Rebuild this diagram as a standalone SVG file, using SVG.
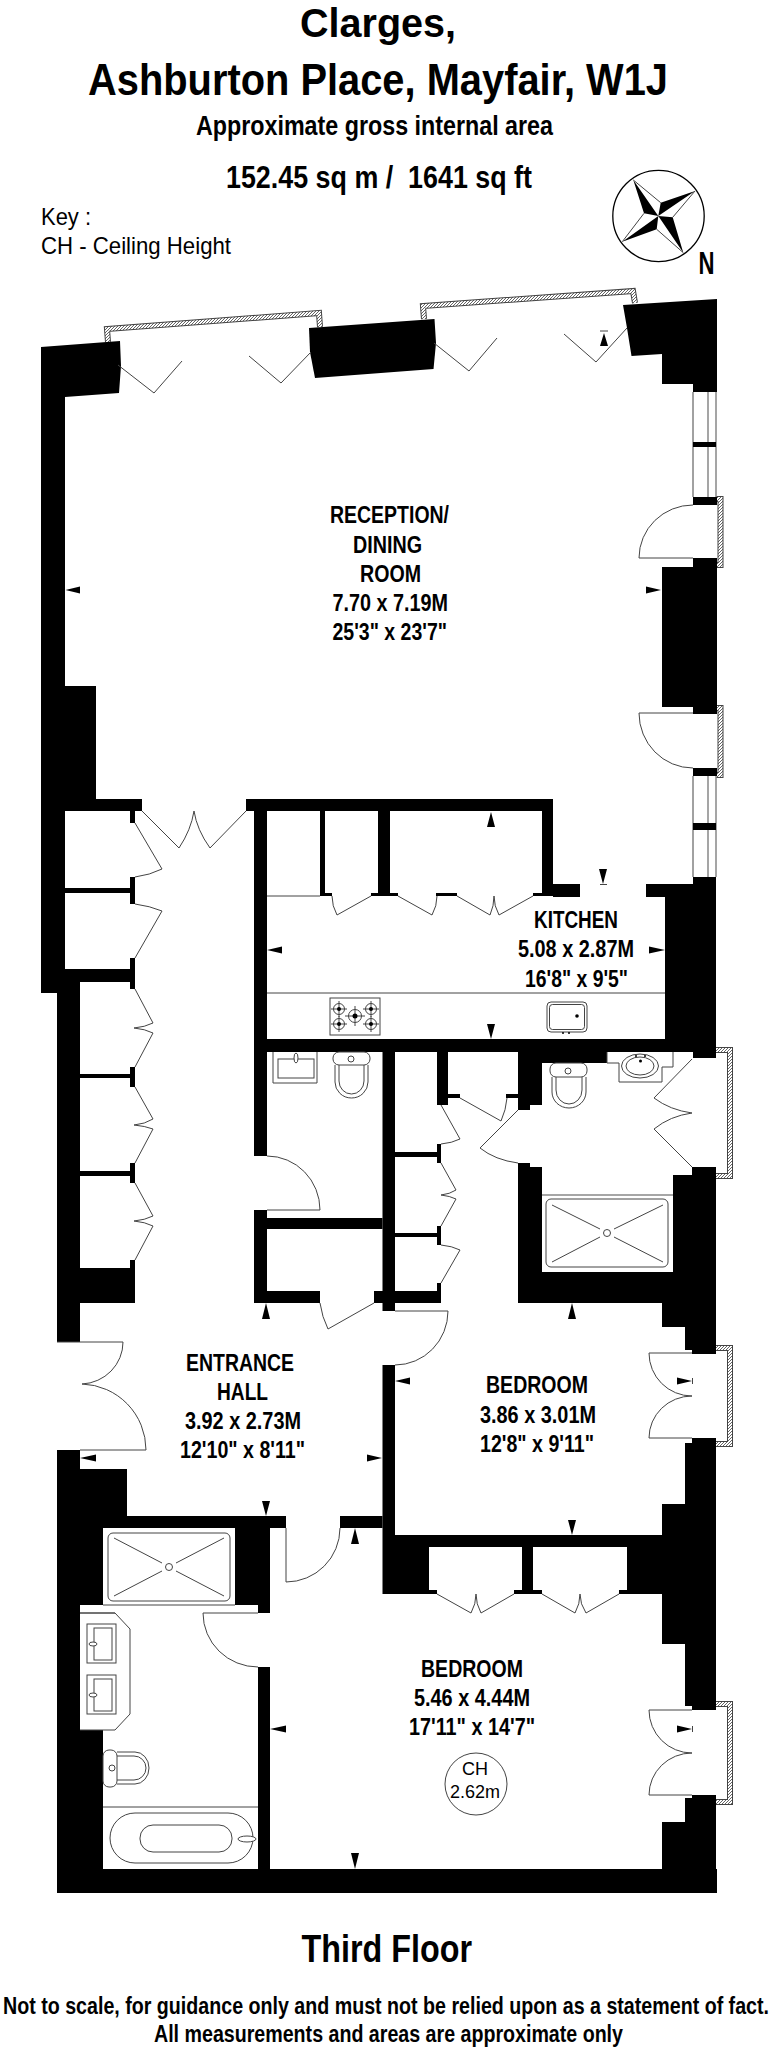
<svg xmlns="http://www.w3.org/2000/svg" width="772" height="2048" viewBox="0 0 772 2048">
<style>
text{font-family:"Liberation Sans",Arial,sans-serif;fill:#000}
.b{font-weight:700}
.r{font-size:23px;font-weight:700}
.l{fill:none;stroke:#444;stroke-width:1}
.g{fill:none;stroke:#888;stroke-width:1.5}
.w{fill:#000}
.fx{fill:#fff;stroke:#444;stroke-width:1}
.d{fill:#000;stroke:none}
</style>
<defs>
<pattern id="hatch" width="3" height="3" patternUnits="userSpaceOnUse"><rect width="3" height="3" fill="#fff"/><path d="M0 3L3 0" stroke="#666" stroke-width="1"/></pattern>
<g id="frames">
<path d="M108 342L107 329L319 313L320 327"/>
<path d="M424 319L423 306L633 291L635 303"/>
<path d="M716 499H720.5V565H716"/>
<path d="M716 708H720.5V775H716"/>
<path d="M716 1050H730V1176H716"/>
<path d="M716 1348H730V1444H716"/>
<path d="M716 1704H730V1802H716"/>
</g>
</defs>
<rect width="772" height="2048" fill="#fff"/>

<g id="titles">
<text class="b" x="300" y="37" font-size="41" textLength="156" lengthAdjust="spacingAndGlyphs">Clarges,</text>
<text class="b" x="88" y="95" font-size="45" textLength="580" lengthAdjust="spacingAndGlyphs">Ashburton Place, Mayfair, W1J</text>
<text class="b" x="196" y="135" font-size="27" textLength="357" lengthAdjust="spacingAndGlyphs">Approximate gross internal area</text>
<text class="b" x="226" y="188" font-size="32" textLength="306" lengthAdjust="spacingAndGlyphs" xml:space="preserve">152.45 sq m /  1641 sq ft</text>
<text x="41" y="225" font-size="24" textLength="50" lengthAdjust="spacingAndGlyphs">Key :</text>
<text x="41" y="254" font-size="24" textLength="190" lengthAdjust="spacingAndGlyphs">CH - Ceiling Height</text>
</g>

<g id="compass">
<circle cx="658.5" cy="216" r="45.7" fill="none" stroke="#000" stroke-width="1.3"/>
<path class="l" d="M633.3 180L660.7 202.7M695 191L672.7 217.3M683.3 252.7L656.7 229.3M622.3 241.7L644 213.3"/>
<path d="M633.3 180L644 213.3L658.3 216ZM695 191L660.7 202.7L658.3 216ZM683.3 252.7L672.7 217.3L658.3 216ZM622.3 241.7L656.7 229.3L658.3 216Z"/>
<text class="b" x="698.5" y="274" font-size="31" textLength="16" lengthAdjust="spacingAndGlyphs">N</text>
</g>

<g id="windows">
<use href="#frames" fill="none" stroke="#444" stroke-width="6"/>
<use href="#frames" fill="none" stroke="url(#hatch)" stroke-width="4"/>
<path class="l" d="M693 392V497M693 776V877"/>
<path class="g" d="M708 392V497M716 392V497M708 776V877M716 776V877"/>
</g>

<g id="walls" class="w">
<polygon points="41,347 120,341 121,366 119,393 65,397 65,686 96,686 96,799 142,799 142,811 135,811 135,823 130,823 130,811 65,811 65,993 41,993"/>
<polygon points="309,328 434.5,319 436,343 433.5,369 315,378 310,352"/>
<polygon points="623,305 717,299 717,392 693,392 693,384 662,384 662,354 631.5,356 627,328"/>
<rect x="65" y="888" width="65" height="5"/><rect x="130" y="877" width="5" height="27"/>
<rect x="65" y="969" width="70" height="13"/><rect x="130" y="958" width="5" height="31"/>
<rect x="57" y="982" width="23" height="360"/>
<rect x="80" y="1074" width="50" height="4"/><rect x="130" y="1067" width="5" height="20"/>
<rect x="80" y="1171" width="50" height="5"/><rect x="130" y="1163" width="5" height="20"/>
<rect x="130" y="1260" width="5" height="8"/><rect x="80" y="1268" width="55" height="35"/>
<rect x="57" y="1450" width="23" height="443"/><rect x="80" y="1469" width="47" height="59"/>
<rect x="127" y="1516" width="159" height="12"/><rect x="80" y="1528" width="23" height="77"/>
<rect x="80" y="1730" width="23" height="139"/><rect x="235" y="1528" width="35" height="77"/>
<rect x="258" y="1605" width="12" height="8"/><rect x="258" y="1667" width="12" height="202"/>
<rect x="57" y="1869" width="660" height="24"/>
<rect x="254" y="799" width="13" height="357"/><rect x="246" y="799" width="307" height="12"/>
<rect x="320" y="811" width="5" height="82"/><rect x="320" y="893" width="12" height="3"/>
<rect x="378" y="811" width="12" height="82"/><rect x="371" y="893" width="27" height="3"/>
<rect x="436" y="893" width="21" height="3"/><rect x="533" y="893" width="9" height="3"/>
<rect x="542" y="799" width="11" height="97"/><rect x="553" y="884" width="27" height="13"/>
<rect x="646" y="884" width="47" height="13"/><rect x="665" y="897" width="28" height="155"/>
<rect x="693" y="877" width="23" height="181"/><rect x="254" y="1039" width="439" height="13"/>
<polygon points="518,1052 607,1052 607,1063 542,1063 542,1105 530,1105 530,1110 518,1110"/>
<rect x="382.5" y="1052" width="12.5" height="259"/>
<rect x="437" y="1052" width="11" height="53"/><rect x="448" y="1094" width="12" height="4"/><rect x="506" y="1094" width="12" height="4"/>
<rect x="395" y="1152" width="42" height="5"/><rect x="437" y="1144" width="4" height="19"/>
<rect x="395" y="1233" width="42" height="4"/><rect x="437" y="1226" width="4" height="19"/>
<rect x="374" y="1291" width="67" height="12"/><rect x="437" y="1283" width="4" height="20"/>
<rect x="254" y="1210" width="13" height="93"/><rect x="267" y="1218" width="115.5" height="11"/><rect x="267" y="1291" width="53" height="12"/>
<polygon points="518,1163 530,1163 530,1167 542,1167 542,1272 673,1272 673,1175 692,1175 692,1167 716,1167 716,1354 692,1354 692,1350 685,1350 685,1327 662,1327 662,1303 518,1303"/>
<rect x="382.5" y="1365" width="12.5" height="170"/><rect x="382.5" y="1535" width="279.5" height="12"/>
<rect x="382.5" y="1547" width="46.5" height="47"/><rect x="429" y="1590" width="8" height="4"/>
<rect x="514" y="1590" width="28" height="4"/><rect x="522" y="1547" width="11" height="43"/>
<rect x="619" y="1590" width="8" height="4"/><rect x="627" y="1547" width="35" height="47"/>
<polygon points="692,1438 716,1438 716,1710 692,1710 692,1706 685,1706 685,1644 662,1644 662,1504 685,1504 685,1443 692,1443"/>
<polygon points="692,1795 716,1795 716,1893 662,1893 662,1822 685,1822 685,1798 692,1798"/>
<rect x="340" y="1516" width="42.5" height="12"/>
<rect x="693" y="497" width="24" height="8"/><rect x="693" y="558" width="24" height="156"/>
<rect x="662" y="567" width="31" height="140"/><rect x="693" y="768" width="24" height="8"/>
<rect x="693" y="442" width="23" height="5"/><rect x="693" y="823" width="23" height="7"/>
</g>

<g id="doors" class="l">
<path d="M118 365L154 393L182 361M249 356L281 383L311 352M434 343L469 371L497 338M564 334L596 362L627 328"/>
<path d="M693 505A54 53 0 0 0 639 558H693M693 713H639A54 55 0 0 0 693 768"/>
<path d="M142 811L179 848Q191 830 194 811Q197 830 210 848L246 811"/>
<path d="M135 823L162 869Q150 875 135 877M135 904Q150 906 162 911L135 958M135 989L153 1023Q145 1027 134 1028Q145 1029 153 1033L135 1067M135 1087L153 1119Q145 1124 134 1125Q145 1126 153 1129L135 1163M135 1183L153 1216Q145 1220 134 1221Q145 1222 153 1226L135 1260"/>
<path d="M332 896Q332 906 337 915L371 896M398 896L432 915Q437 906 437 896M457 896L490 915Q494 906 494 896Q494 906 499 915L533 896"/>
<path d="M320 1303Q322 1317 328 1329L374 1303M267 1156A53 54 0 0 1 320 1210H267"/>
<path d="M57 1342H123A43 42 0 0 1 82 1384A66 66 0 0 1 146 1450H80"/>
<path d="M692 1059L654 1098Q670 1110 692 1113Q670 1116 654 1129L692 1167M518 1110L480 1148Q495 1160 518 1163"/>
<path d="M441 1105L460 1139Q452 1143 441 1144M441 1163L456 1190Q450 1194 441 1195Q450 1196 456 1199L441 1226M441 1245Q452 1246 460 1250L441 1283M460 1098L501 1121Q506 1110 507 1098"/>
<path d="M395 1311H448A53 54 0 0 1 395 1365"/>
<path d="M692 1353H649A43 43 0 0 0 692 1396A43 42 0 0 0 649 1438H692"/>
<path d="M692 1710H649A43 43 0 0 0 692 1753A43 42 0 0 0 649 1795H692"/>
<path d="M286 1528V1582A54 54 0 0 0 340 1528M258 1613H203A55 54 0 0 0 258 1667"/>
<path d="M437 1594L471 1613Q476 1604 476 1594Q476 1604 481 1613L514 1594M542 1594L575 1613Q580 1604 580 1594Q580 1604 586 1613L619 1594"/>
</g>

<g id="fittings">
<path class="l" d="M267 896H320M267 993H665M103 1807H258M80 1613H115M103 1605H235"/>
<path class="g" d="M542 1195H673"/>
<rect class="l" x="330" y="998" width="50" height="37" stroke-width="1.4"/>
<g class="l">
<circle cx="339" cy="1009" r="5.5"/><circle cx="339" cy="1024" r="5.5"/><circle cx="355" cy="1016" r="6.5"/><circle cx="371" cy="1009" r="5.5"/><circle cx="371" cy="1024" r="5.5"/>
<path d="M331 1009h16M339 1001v16M331 1024h16M339 1016v16M345 1016h20M355 1006v20M363 1009h16M371 1001v16M363 1024h16M371 1016v16"/>
</g>
<circle cx="339" cy="1009" r="2"/><circle cx="339" cy="1024" r="2"/><circle cx="355" cy="1016" r="2.5"/><circle cx="371" cy="1009" r="2"/><circle cx="371" cy="1024" r="2"/>
<rect class="l" x="547" y="1002" width="40" height="30" rx="4"/><rect class="l" x="549.5" y="1004.5" width="35" height="25" rx="3"/>
<circle cx="577" cy="1016" r="1.8"/><circle cx="563" cy="1033" r="1"/><circle cx="569" cy="1033" r="1"/>
<path class="fx" d="M607 1052V1063H619V1082H662V1067H673V1052"/>
<ellipse class="l" cx="640" cy="1066" rx="18.5" ry="12"/><ellipse class="l" cx="640" cy="1066" rx="14" ry="9"/>
<circle cx="640.5" cy="1061" r="1.5"/><circle cx="636" cy="1056" r="1"/><circle cx="645" cy="1056" r="1"/>
<path class="l" d="M552 1077V1092A17 16 0 0 0 586 1092V1077M556 1077V1090A13 14 0 0 0 582 1090V1077"/>
<rect class="l" x="550" y="1063" width="37" height="14" rx="6"/><circle class="l" cx="568" cy="1071" r="3"/>
<rect class="l" x="546" y="1199" width="122" height="68" rx="5"/><circle class="l" cx="607" cy="1233" r="3.5"/>
<path class="l" d="M552 1205L600 1229M663 1205L614 1229M552 1262L600 1237M663 1262L614 1237"/>
<path class="l" d="M273 1052V1083H317V1052"/><rect class="l" x="278" y="1059" width="36" height="19"/><ellipse class="fx" cx="296" cy="1058" rx="2" ry="5"/>
<path class="l" d="M335 1065V1082A16.500 16 0 0 0 368 1082V1065M339 1065V1081A12.500 13 0 0 0 364 1081V1065"/>
<rect class="l" x="333" y="1052" width="37" height="13" rx="6"/><circle class="l" cx="351" cy="1059" r="3"/>
<rect class="l" x="108" y="1533" width="122" height="68" rx="5"/><circle class="l" cx="169" cy="1567" r="3.5"/>
<path class="l" d="M114 1538L162 1563M224 1538L176 1563M114 1596L162 1571M224 1596L176 1571"/>
<path class="l" d="M80 1613H115L130 1629V1714L115 1730H80"/>
<rect class="l" x="87" y="1624" width="29" height="39"/><rect class="l" x="94" y="1628" width="18" height="32"/><ellipse class="fx" cx="93" cy="1644" rx="4" ry="2"/>
<rect class="l" x="87" y="1675" width="29" height="39"/><rect class="l" x="94" y="1679" width="18" height="32"/><ellipse class="fx" cx="93" cy="1695" rx="4" ry="2"/>
<path class="l" d="M117 1752H135A14 16 0 0 1 149 1768A14 16 0 0 1 135 1784H117M117 1756H134A12 12 0 0 1 146 1768A12 12 0 0 1 134 1780H117"/>
<rect class="l" x="103" y="1750" width="14" height="37" rx="6"/><circle class="l" cx="112" cy="1768" r="3"/>
<rect class="l" x="110" y="1813" width="143" height="50" rx="25"/><rect class="l" x="140" y="1825" width="92" height="27" rx="13"/><ellipse class="fx" cx="247" cy="1839" rx="9" ry="3"/>
</g>

<g id="dimension-marks" class="d">
<path d="M65.500 590L80 586.500V593.500ZM661 590L646 586.500V593.500ZM267 950L282 946.500V953.500ZM665 950L649 946.500V953.500ZM80 1458L96 1454.500V1461.500ZM382 1458L367 1454.500V1461.500ZM395 1381L410 1377.500V1384.500ZM692 1381L677 1377.500V1384.500ZM270 1729L286 1725.500V1732.500ZM692 1729L677 1725.500V1732.500Z"/>
<path d="M604 333L608 346H600ZM491 812L495 827H487ZM491 1039L495 1024H487ZM603 884L607 869H599ZM266 1303L270 1319H262ZM266 1516L270 1501H262ZM572 1303L576 1319H568ZM572 1535L576 1520H568ZM355 1528L359 1544H351ZM355 1869L359 1853H351Z"/>
<path class="l" d="M600 331H608M600 884.500H607M692.500 1378V1384M692.500 1726V1732"/>
</g>

<g id="room-reception">
<text class="r" x="330" y="523" textLength="119" lengthAdjust="spacingAndGlyphs">RECEPTION/</text>
<text class="r" x="353" y="553" textLength="69" lengthAdjust="spacingAndGlyphs">DINING</text>
<text class="r" x="360" y="582" textLength="61" lengthAdjust="spacingAndGlyphs">ROOM</text>
<text class="r" x="332.500" y="611" textLength="115.500" lengthAdjust="spacingAndGlyphs">7.70 x 7.19M</text>
<text class="r" x="332.500" y="640" textLength="114.500" lengthAdjust="spacingAndGlyphs">25'3" x 23'7"</text>
</g>
<g id="room-kitchen">
<text class="r" x="534" y="928" textLength="84" lengthAdjust="spacingAndGlyphs">KITCHEN</text>
<text class="r" x="518" y="957" textLength="116" lengthAdjust="spacingAndGlyphs">5.08 x 2.87M</text>
<text class="r" x="525" y="987" textLength="103" lengthAdjust="spacingAndGlyphs">16'8" x 9'5"</text>
</g>
<g id="room-hall">
<text class="r" x="186" y="1371" textLength="108" lengthAdjust="spacingAndGlyphs">ENTRANCE</text>
<text class="r" x="217" y="1400" textLength="51" lengthAdjust="spacingAndGlyphs">HALL</text>
<text class="r" x="185" y="1429" textLength="116" lengthAdjust="spacingAndGlyphs">3.92 x 2.73M</text>
<text class="r" x="180" y="1458" textLength="125" lengthAdjust="spacingAndGlyphs">12'10" x 8'11"</text>
</g>
<g id="room-bedroom-1">
<text class="r" x="486" y="1393" textLength="102" lengthAdjust="spacingAndGlyphs">BEDROOM</text>
<text class="r" x="480" y="1423" textLength="116" lengthAdjust="spacingAndGlyphs">3.86 x 3.01M</text>
<text class="r" x="480" y="1452" textLength="114" lengthAdjust="spacingAndGlyphs">12'8" x 9'11"</text>
</g>
<g id="room-bedroom-2">
<text class="r" x="421" y="1677" textLength="102" lengthAdjust="spacingAndGlyphs">BEDROOM</text>
<text class="r" x="414" y="1706" textLength="116" lengthAdjust="spacingAndGlyphs">5.46 x 4.44M</text>
<text class="r" x="409" y="1735" textLength="126" lengthAdjust="spacingAndGlyphs">17'11" x 14'7"</text>
<circle class="l" cx="476" cy="1784" r="31"/>
<text x="475" y="1775" font-size="18" text-anchor="middle">CH</text>
<text x="475" y="1798" font-size="18" text-anchor="middle">2.62m</text>
</g>

<g id="footer">
<text class="b" x="301.500" y="1962" font-size="39" textLength="170.500" lengthAdjust="spacingAndGlyphs">Third Floor</text>
<text class="b" x="3" y="2014" font-size="24" textLength="766" lengthAdjust="spacingAndGlyphs">Not to scale, for guidance only and must not be relied upon as a statement of fact.</text>
<text class="b" x="154" y="2042" font-size="23" textLength="469" lengthAdjust="spacingAndGlyphs">All measurements and areas are approximate only</text>
</g>
</svg>
